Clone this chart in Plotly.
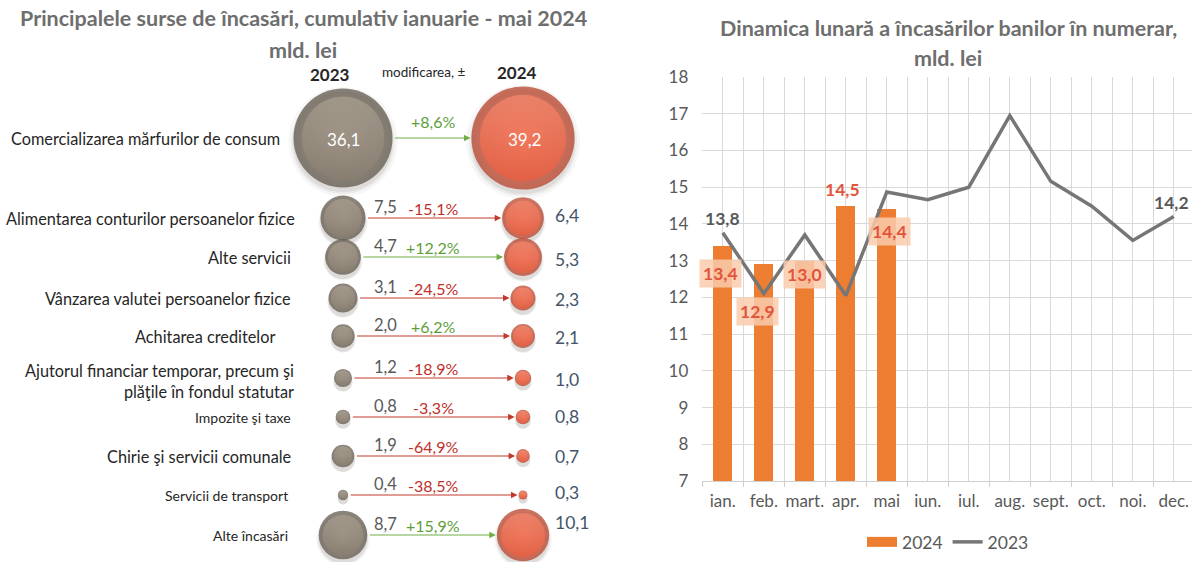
import math
import plotly.graph_objects as go

# ---------------- data: left panel ----------------
categories = [
    "Comercializarea mărfurilor de consum",
    "Alimentarea conturilor persoanelor fizice",
    "Alte servicii",
    "Vânzarea valutei persoanelor fizice",
    "Achitarea creditelor",
    "Ajutorul financiar temporar, precum şi<br>plăţile în fondul statutar",
    "Impozite şi taxe",
    "Chirie şi servicii comunale",
    "Servicii de transport",
    "Alte încasări",
]
values_2023 = [36.1, 7.5, 4.7, 3.1, 2.0, 1.2, 0.8, 1.9, 0.4, 8.7]
values_2024 = [39.2, 6.4, 5.3, 2.3, 2.1, 1.0, 0.8, 0.7, 0.3, 10.1]
change_pct = [8.6, -15.1, 12.2, -24.5, 6.2, -18.9, -3.3, -64.9, -38.5, 15.9]

# ---------------- data: right panel ----------------
months = ["ian.", "feb.", "mart.", "apr.", "mai", "iun.", "iul.", "aug.",
          "sept.", "oct.", "noi.", "dec."]
monthly_2024 = [13.4, 12.9, 13.0, 14.5, 14.4]
monthly_2023 = [13.76, 12.1, 13.7, 12.05, 14.87, 14.66, 15.0, 16.95, 15.16,
                14.48, 13.55, 14.2]
labelled_2023 = [0, 11]  # months whose 2023 value is labelled

# ---------------- layout / style (pixels) ----------------
W, H = 1192, 562
FONT = "Lato, Carlito, Calibri, sans-serif"
ROW_Y = [138, 218, 257, 298, 336, 378, 417, 456, 495, 535]
COL_2023, COL_2024 = 343, 523
LABEL_RIGHT = [282, 297, 293, 293, 277, 296, 293, 293, 290, 290]
LABEL_SIZE = [16.3, 16.3, 16.3, 16.3, 16.3, 16.3, 14, 16.3, 14, 14]
V24_DY = [0, -3, 2, 1, 1, 1, -1, 0, -3, -13]
ARROW_COL = ["#70AD47", "#C0392B", "#70AD47", "#C0392B", "#C0392B",
             "#C0392B", "#C0392B", "#C0392B", "#C0392B", "#70AD47"]
GREEN_TXT, RED_TXT = "#5E9E3A", "#C0302B"
GRAY_RIM, GRAY_FACE, GRAY_HI = "#574D41", "#8A7E6F", "#ABA091"
ORG_RIM, ORG_FACE, ORG_HI = "#B3361D", "#EE5B3C", "#F78A6E"
SR = 2 * 36.1 / (99 ** 2)  # bubble sizeref (area mode): 36.1 -> 99 px diameter
TITLE_COL = "#6E6E6E"
BAR_COL, LINE_COL = "#ED7D31", "#767676"


def fmt(v):
    return f"{v:.1f}".replace(".", ",")


def radius(v):
    return math.sqrt(v / (2 * SR))


fig = go.Figure()

# ---------------- right chart ----------------
fig.add_trace(go.Bar(
    x=list(range(len(monthly_2024))), y=monthly_2024, name="2024",
    marker=dict(color=BAR_COL, line=dict(width=0)), width=0.44,
    xaxis="x", yaxis="y", hoverinfo="skip", showlegend=False))
# legend swatch for the bars (wide rectangle as in the original)
fig.add_trace(go.Scatter(
    x=[None], y=[None], name="2024", mode="lines",
    line=dict(color=BAR_COL, width=11), xaxis="x", yaxis="y", hoverinfo="skip"))
fig.add_trace(go.Scatter(
    x=list(range(len(months))), y=monthly_2023, name="2023", mode="lines",
    line=dict(color=LINE_COL, width=3.5), xaxis="x", yaxis="y",
    hoverinfo="skip"))

# ---------------- left panel bubbles ----------------
for col, vals, rim, face, hi in [(COL_2023, values_2023, GRAY_RIM, GRAY_FACE, GRAY_HI),
                                 (COL_2024, values_2024, ORG_RIM, ORG_FACE, ORG_HI)]:
    xs = [col] * len(vals)
    for scale, alpha in [(1.22, 0.05), (1.10, 0.08), (1.02, 0.10)]:
        fig.add_trace(go.Scatter(
            x=xs, y=[y + 4 for y in ROW_Y], mode="markers", xaxis="x2", yaxis="y2",
            marker=dict(size=[v * scale for v in vals], sizemode="area", sizeref=SR,
                        color=f"rgba(40,30,20,{alpha})", line=dict(width=0)),
            showlegend=False, hoverinfo="skip"))
    fig.add_trace(go.Scatter(
        x=xs, y=ROW_Y, mode="markers", xaxis="x2", yaxis="y2",
        marker=dict(size=vals, sizemode="area", sizeref=SR, color=rim,
                    gradient=dict(type="radial", color=face), line=dict(width=0)),
        showlegend=False, hoverinfo="skip"))
    fig.add_trace(go.Scatter(
        x=xs, y=ROW_Y, mode="markers", xaxis="x2", yaxis="y2",
        marker=dict(size=[v * 0.70 for v in vals], sizemode="area", sizeref=SR,
                    color=hi, gradient=dict(type="vertical", color=face),
                    line=dict(width=0)),
        showlegend=False, hoverinfo="skip"))

annotations = []


def left_text(x, y, text, size=15, color="#262626", xanchor="center", bold=False, align="center"):
    annotations.append(dict(
        x=x, y=y, xref="x2", yref="y2", text=f"<b>{text}</b>" if bold else text,
        showarrow=False, xanchor=xanchor, yanchor="middle", align=align,
        font=dict(family=FONT, size=size, color=color)))


# titles / headers
left_text(303, 18, "Principalele surse de încasări, cumulativ ianuarie - mai 2024", 21.5, TITLE_COL, bold=True)
left_text(303, 50, "mld. lei", 21.5, TITLE_COL, bold=True)
left_text(330, 74, "2023", 17, "#262626", bold=True)
left_text(423, 72, "modificarea, ±", 13.5, "#262626")
left_text(517, 72, "2024", 17, "#262626", bold=True)

for i, cat in enumerate(categories):
    y = ROW_Y[i]
    ly = y + 3 if "<br>" in cat else y
    left_text(LABEL_RIGHT[i], ly, cat, LABEL_SIZE[i], "#262626", xanchor="right", align="right")
    r23, r24 = radius(values_2023[i]), radius(values_2024[i])
    col = ARROW_COL[i]
    annotations.append(dict(
        x=COL_2024, y=y, ax=COL_2023, ay=y, xref="x2", yref="y2", axref="x2", ayref="y2",
        showarrow=True, arrowhead=2, arrowsize=1.3, arrowwidth=1, arrowcolor=col,
        standoff=r24 + 1, startstandoff=r23 + 1, text=""))
    pct_col = GREEN_TXT if change_pct[i] > 0 else RED_TXT
    sign = "+" if change_pct[i] > 0 else ""
    if i == 0:
        left_text(COL_2023, y + 1, fmt(values_2023[i]), 17, "#FFFFFF")
        left_text(COL_2024 + 1, y + 1, fmt(values_2024[i]), 17, "#FFFFFF")
        left_text(433, y - 17, f"{sign}{fmt(change_pct[i])}%", 16, pct_col)
    else:
        left_text(372, y - 11, fmt(values_2023[i]), 16.5, "#595959", xanchor="left")
        left_text(433, y - 10, f"{sign}{fmt(change_pct[i])}%", 16, pct_col)
        left_text(553, y + V24_DY[i], fmt(values_2024[i]), 17.5, "#44546A", xanchor="left")

# ---------------- right chart labels ----------------
BAR_LBL = [(-2, -28, True), (-6, -47, True), (0, -14, True), (-3, 16, False), (3, -22, True)]
for i, v in enumerate(monthly_2024):
    dx, dy, box = BAR_LBL[i]
    annotations.append(dict(
        x=i, y=v, xref="x", yref="y", text=f"<b>{fmt(v)}</b>", showarrow=False,
        xshift=dx, yshift=dy, font=dict(family=FONT, size=17.5, color="#E2543B"),
        bgcolor="rgba(249,203,173,0.85)" if box else "rgba(0,0,0,0)", borderpad=3))
for i in labelled_2023:
    annotations.append(dict(
        x=i, y=monthly_2023[i], xref="x", yref="y", text=f"<b>{fmt(monthly_2023[i])}</b>",
        showarrow=False, yshift=14, xshift=-2 if i else 0,
        font=dict(family=FONT, size=17.5, color="#595959")))

annotations.append(dict(
    x=948 / W, y=1 - 28 / H, xref="paper", yref="paper", showarrow=False,
    xanchor="center", yanchor="middle",
    text="<b>Dinamica lunară a încasărilor banilor în numerar,</b>",
    font=dict(family=FONT, size=21.5, color=TITLE_COL)))
annotations.append(dict(
    x=948 / W, y=1 - 58 / H, xref="paper", yref="paper", showarrow=False,
    xanchor="center", yanchor="middle",
    text="<b>mld. lei</b>", font=dict(family=FONT, size=21.5, color=TITLE_COL)))

fig.update_layout(
    width=W, height=H, margin=dict(l=0, r=0, t=0, b=0, autoexpand=False),
    paper_bgcolor="white", plot_bgcolor="white",
    font=dict(family=FONT, color="#595959"),
    bargap=0,
    xaxis=dict(
        domain=[702.3 / W, 1], range=[-0.5, 11.444], anchor="y", automargin=False,
        tickmode="array", tickvals=list(range(len(months))), ticktext=months,
        showgrid=True, gridcolor="#D9D9D9", gridwidth=1, ticks="",
        showline=True, linecolor="#CFCFCF", linewidth=1, zeroline=False,
        tickfont=dict(family=FONT, size=17, color="#595959"), ticklabelstandoff=5,
        minor=dict(tickmode="linear", tick0=-0.5, dtick=1, showgrid=True,
                   gridcolor="#D9D9D9", ticks="outside", ticklen=5, tickcolor="#CFCFCF"),
        fixedrange=True),
    yaxis=dict(
        domain=[(H - 481) / H, (H - 77) / H], range=[7, 18], anchor="x", automargin=False,
        tickmode="linear", tick0=7, dtick=1, showgrid=True, gridcolor="#D9D9D9",
        zeroline=False, showline=False, ticks="",
        tickfont=dict(family=FONT, size=17, color="#595959"), ticklabelstandoff=13,
        fixedrange=True),
    xaxis2=dict(domain=[0, 640 / W], range=[0, 640], anchor="y2", visible=False,
                automargin=False, fixedrange=True),
    yaxis2=dict(domain=[0, 1], range=[H, 0], anchor="x2", visible=False,
                automargin=False, fixedrange=True),
    legend=dict(orientation="h", x=948 / W, xanchor="center", y=1 - 542 / H,
                yanchor="middle", font=dict(family=FONT, size=17.5, color="#595959"),
                itemwidth=30, bgcolor="rgba(0,0,0,0)"),
    annotations=annotations,
    showlegend=True,
)

fig.write_html("out.html", config={"displayModeBar": False},
               post_script="document.body.style.margin='0';document.body.style.overflow='hidden';")
